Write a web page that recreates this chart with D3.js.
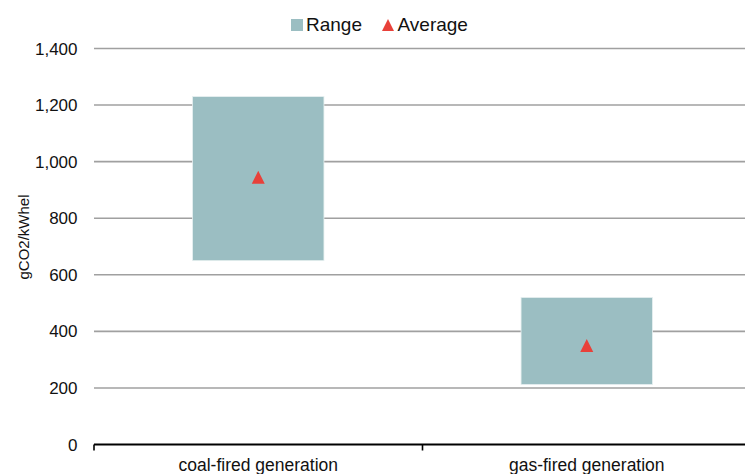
<!DOCTYPE html>
<html>
<head>
<meta charset="utf-8">
<script src="https://cdn.jsdelivr.net/npm/d3@7"></script>
<style>
  html, body { margin: 0; padding: 0; background: #fff; }
  svg { display: block; font-family: "Liberation Sans", Arial, sans-serif; }
</style>
</head>
<body>
<svg id="chart" width="745" height="474"></svg>
<script>
// Emission intensity ranges by generation type
const categories = ["coal-fired generation", "gas-fired generation"];
const rangeLow = [650, 212];
const rangeHigh = [1230, 520];
const averages = [945, 350];
const yTicks = [0, 200, 400, 600, 800, 1000, 1200, 1400];

const svg = d3.select("#chart");
const W = 745;

const x = d3.scaleBand().domain(categories).range([94, 751]).paddingInner(0).paddingOuter(0);
const y = d3.scaleLinear().domain([0, 1400]).range([444.5, 48.5]);
const barW = x.bandwidth() * 0.4;
const fmt = d3.format(",");

// horizontal gridlines
svg.append("g").selectAll("line")
  .data(yTicks.filter(d => d > 0))
  .join("line")
  .attr("x1", 94).attr("x2", W)
  .attr("y1", d => y(d)).attr("y2", d => y(d))
  .attr("stroke", "#a0a0a0").attr("stroke-width", 1.6);

// y tick labels
svg.append("g").selectAll("text")
  .data(yTicks)
  .join("text")
  .attr("x", 77.5).attr("y", d => y(d))
  .attr("dy", "0.36em")
  .attr("text-anchor", "end")
  .attr("font-size", 17)
  .attr("fill", "#111")
  .text(d => fmt(d));

// y axis title
svg.append("text")
  .attr("transform", `translate(23.5,237) rotate(-90)`)
  .attr("text-anchor", "middle")
  .attr("dy", "0.35em")
  .attr("font-size", 15)
  .attr("fill", "#111")
  .text("gCO2/kWhel");

// range bars
const rows = categories.map((c, i) => ({ c, lo: rangeLow[i], hi: rangeHigh[i], avg: averages[i] }));
svg.append("g").selectAll("rect")
  .data(rows)
  .join("rect")
  .attr("x", d => x(d.c) + x.bandwidth() / 2 - barW / 2)
  .attr("width", barW)
  .attr("y", d => y(d.hi))
  .attr("height", d => y(d.lo) - y(d.hi))
  .attr("fill", "#9bbec2")
  .attr("stroke", "#e6eff0").attr("stroke-width", 0.8);

// average markers (triangles centred on their box)
const tri = (cx, cy, s) => `M${cx},${cy - s / 2}L${cx + s / 2},${cy + s / 2}L${cx - s / 2},${cy + s / 2}Z`;
svg.append("g").selectAll("path")
  .data(rows)
  .join("path")
  .attr("d", d => tri(x(d.c) + x.bandwidth() / 2, y(d.avg), 13))
  .attr("fill", "#e8413a");

// category axis
const axisY = y(0);
svg.append("line")
  .attr("x1", 94).attr("x2", W)
  .attr("y1", axisY).attr("y2", axisY)
  .attr("stroke", "#000").attr("stroke-width", 2);
const edges = categories.map(c => x(c)).concat([x.range()[1]]);
svg.append("g").selectAll("line")
  .data(edges)
  .join("line")
  .attr("x1", d => d).attr("x2", d => d)
  .attr("y1", axisY).attr("y2", axisY + 6)
  .attr("stroke", "#000").attr("stroke-width", 1.6);
svg.append("g").selectAll("text")
  .data(categories)
  .join("text")
  .attr("x", d => x(d) + x.bandwidth() / 2)
  .attr("y", 471)
  .attr("text-anchor", "middle")
  .attr("font-size", 17.5)
  .attr("fill", "#111")
  .text(d => d);

// legend
const lg = svg.append("g");
lg.append("rect").attr("x", 291).attr("y", 19).attr("width", 12).attr("height", 12).attr("fill", "#9bbec2");
lg.append("text").attr("x", 306).attr("y", 31).attr("font-size", 19).attr("fill", "#111").text("Range");
lg.append("path").attr("d", tri(388, 25, 12)).attr("fill", "#e8413a");
lg.append("text").attr("x", 397.5).attr("y", 31).attr("font-size", 19).attr("fill", "#111").text("Average");
</script>
</body>
</html>
